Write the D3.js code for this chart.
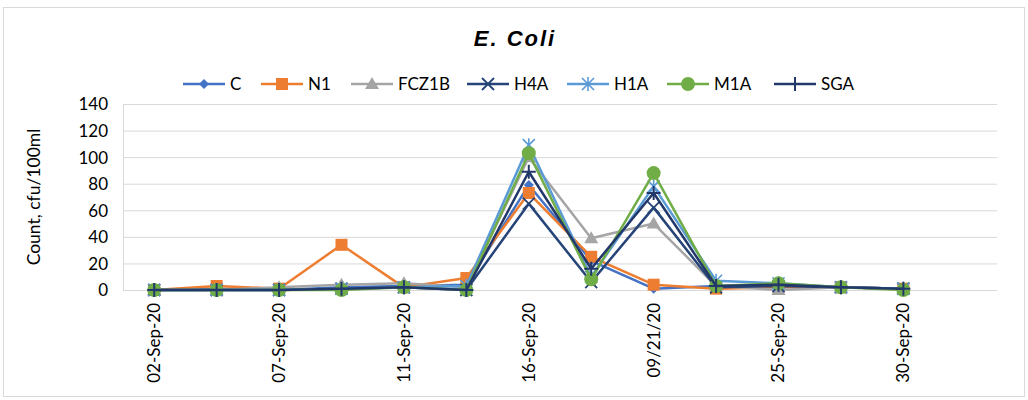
<!DOCTYPE html>
<html lang="en">
<head>
    <meta charset="utf-8">
    <script src="https://cdn.jsdelivr.net/npm/d3@7/dist/d3.min.js"></script>
    <style>
        body { margin: 0; background: #fff; }
        text { font-family: Lato, "Liberation Sans", sans-serif; fill: #000; }
    </style>
</head>
<body>
<div id="chart"></div>
<script>
    // categories (14 slots, only every second is labelled)
    var dates = ["02-Sep-20", "04-Sep-20", "07-Sep-20", "09-Sep-20", "11-Sep-20", "14-Sep-20",
                 "16-Sep-20", "18-Sep-20", "09/21/20", "23-Sep-20", "25-Sep-20", "28-Sep-20",
                 "30-Sep-20", ""]
    var yTicks = [0, 20, 40, 60, 80, 100, 120, 140]

    var C     = [0, 1, 0, 2, 3, 4, 79, 22, 1, 3, 3, 2, 1]
    var N1    = [0, 3, 1, 34, 2, 9, 73, 25, 4, 1, 2, 2, 1]
    var FCZ1B = [0, 0, 2, 4, 5, 2, 100, 39, 50, 3, 0, 2, 1]
    var H4A   = [0, 0, 0, 1, 2, 0, 65, 6, 62, 2, 3, 2, 1]
    var H1A   = [0, 0, 0, 1, 2, 3, 109, 10, 78, 7, 5, 2, 1]
    var M1A   = [0, 0, 0, 0, 2, 0, 103, 8, 88, 3, 5, 2, 0]
    var SGA   = [0, 0, 0, 1, 2, 0, 89, 16, 73, 3, 4, 2, 1]

    var series = [
        {name: "C", values: C, color: "#4472C4", marker: "diamond"},
        {name: "N1", values: N1, color: "#ED7D31", marker: "square"},
        {name: "FCZ1B", values: FCZ1B, color: "#A5A5A5", marker: "triangle"},
        {name: "H4A", values: H4A, color: "#264478", marker: "x"},
        {name: "H1A", values: H1A, color: "#5B9BD5", marker: "star"},
        {name: "M1A", values: M1A, color: "#70AD47", marker: "circle"},
        {name: "SGA", values: SGA, color: "#22386A", marker: "plus"}
    ]

    var width = 1028,
        height = 400,
        margin = {left: 123, right: 31, top: 104, bottom: 110}

    var svg = d3.select("#chart")
        .append("svg")
            .attr("width", width)
            .attr("height", height)

    svg.append("rect")
        .attr("x", 3.5).attr("y", 7.5)
        .attr("width", 1021).attr("height", 389)
        .attr("fill", "#fff")
        .attr("stroke", "#d9d9d9")

    svg.append("text")
        .attr("x", 515).attr("y", 46)
        .attr("text-anchor", "middle")
        .style("font-family", "'Liberation Sans', Arial, sans-serif")
        .style("font-size", "22px")
        .style("font-weight", "bold")
        .style("font-style", "italic")
        .style("letter-spacing", "2px")
        .text("E. Coli")

    var x = d3.scaleBand()
        .domain(d3.range(dates.length))
        .range([margin.left, width - margin.right])

    var y = d3.scaleLinear()
        .domain([0, 140])
        .range([height - margin.bottom, margin.top])

    // gridlines
    svg.append("g")
        .selectAll("line")
        .data(yTicks)
        .enter()
        .append("line")
            .attr("x1", margin.left).attr("x2", width - margin.right)
            .attr("y1", function(d) { return y(d) + 0.5 })
            .attr("y2", function(d) { return y(d) + 0.5 })
            .attr("stroke", "#d9d9d9")
            .attr("stroke-width", 1)

    svg.append("line")
        .attr("x1", margin.left + 0.5).attr("x2", margin.left + 0.5)
        .attr("y1", y(140)).attr("y2", y(0))
        .attr("stroke", "#d9d9d9")

    var yAxis = svg.append("g")
        .attr("transform", "translate(" + margin.left + ",0)")
        .call(d3.axisLeft(y).tickValues(yTicks).tickSize(0).tickPadding(15))
    yAxis.select(".domain").remove()
    yAxis.selectAll("text")
        .style("font-size", "17px")
        .attr("font-family", null)
        .attr("dy", "0.35em")

    var xAxis = svg.append("g")
        .attr("transform", "translate(0," + y(0) + ")")
        .call(d3.axisBottom(x)
            .tickValues(d3.range(0, 13, 2))
            .tickFormat(function(i) { return dates[i] })
            .tickSize(0))
    xAxis.select(".domain").remove()
    xAxis.selectAll("text")
        .attr("font-family", null)
        .style("font-size", "17px")
        .attr("text-anchor", "end")
        .attr("transform", "rotate(-90)")
        .attr("x", -13)
        .attr("y", 0)
        .attr("dy", "0.35em")

    svg.append("text")
        .attr("transform", "translate(34," + (y(70)) + ") rotate(-90)")
        .attr("text-anchor", "middle")
        .attr("dy", "0.35em")
        .style("font-size", "17.5px")
        .text("Count, cfu/100ml")

    var line = d3.line()
        .x(function(d, i) { return x(i) + x.bandwidth() / 2 })
        .y(function(d) { return y(d) })

    function drawMarker(g, type, color) {
        if (type == "diamond") {
            g.append("path").attr("d", "M0,-5L5,0L0,5L-5,0Z").attr("fill", color)
        } else if (type == "square") {
            g.append("rect").attr("x", -6).attr("y", -6).attr("width", 12).attr("height", 12).attr("fill", color)
        } else if (type == "triangle") {
            g.append("path").attr("d", "M0,-7L7,5L-7,5Z").attr("fill", color)
        } else if (type == "circle") {
            g.append("circle").attr("r", 7).attr("fill", color)
        } else if (type == "x") {
            g.append("path").attr("d", "M-6,-6L6,6M-6,6L6,-6").attr("stroke", color).attr("stroke-width", 1.8)
        } else if (type == "star") {
            g.append("path").attr("d", "M-6,-6L6,6M-6,6L6,-6M0,-7L0,7").attr("stroke", color).attr("stroke-width", 1.6)
        } else if (type == "plus") {
            g.append("path").attr("d", "M-7,0L7,0M0,-7L0,7").attr("stroke", color).attr("stroke-width", 2)
        }
    }

    series.forEach(function(s) {
        svg.append("path")
            .datum(s.values)
            .attr("d", line)
            .attr("fill", "none")
            .attr("stroke", s.color)
            .attr("stroke-width", 2.5)
            .attr("stroke-linejoin", "round")

        svg.append("g")
            .selectAll("g")
            .data(s.values)
            .enter()
            .append("g")
                .attr("transform", function(d, i) {
                    return "translate(" + (x(i) + x.bandwidth() / 2) + "," + y(d) + ")"
                })
                .each(function() { drawMarker(d3.select(this), s.marker, s.color) })
    })

    // legend
    var legendX = [183, 261, 351, 467, 567, 667, 774]
    var legend = svg.append("g")
        .selectAll("g")
        .data(series)
        .enter()
        .append("g")
            .attr("transform", function(d, i) { return "translate(" + legendX[i] + ",84)" })

    legend.append("line")
        .attr("x1", 0).attr("x2", 42)
        .attr("stroke", function(d) { return d.color })
        .attr("stroke-width", 2.5)
    legend.append("g")
        .attr("transform", "translate(21,0)")
        .each(function(d) { drawMarker(d3.select(this), d.marker, d.color) })
    legend.append("text")
        .attr("x", 47)
        .attr("dy", "0.35em")
        .style("font-size", "17px")
        .text(function(d) { return d.name })
</script>
</body>
</html>
